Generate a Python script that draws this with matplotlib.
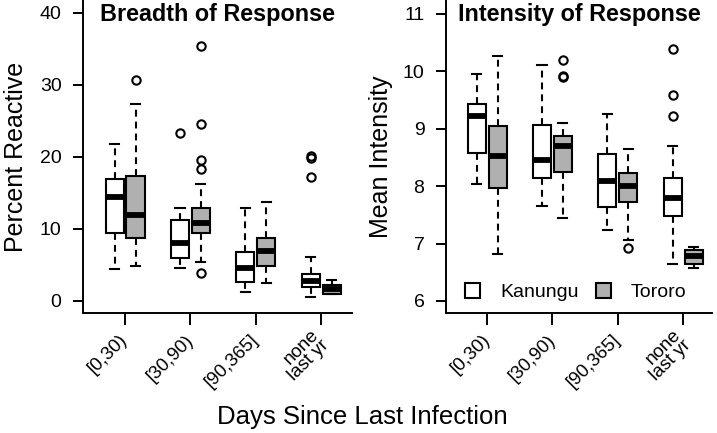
"""
boxploty: breadth a intensity odpovedi podle dnu od posledni infekce
"""
import matplotlib
matplotlib.use("Agg")
import matplotlib.pyplot as plt
from matplotlib.patches import Patch

plt.rcParams['font.family'] = ['Liberation Sans', 'DejaVu Sans']

groups = ["[0,30)", "[30,90)", "[90,365]", "none\nlast yr"]
sites = ["Kanungu", "Tororo"]

# Breadth of Response (Percent Reactive)
br_kan_whislo = [4.4, 4.6, 1.3, 0.6]
br_kan_q1 = [9.5, 6.0, 2.6, 1.9]
br_kan_med = [14.4, 8.1, 4.6, 2.8]
br_kan_q3 = [16.9, 11.2, 6.8, 3.8]
br_kan_whishi = [21.8, 12.9, 12.9, 6.1]
br_kan_fliers = [[], [23.3], [], [20.1, 19.8, 17.2]]

br_tor_whislo = [4.9, 5.4, 2.5, 0.95]
br_tor_q1 = [8.8, 9.4, 4.8, 1.0]
br_tor_med = [12.0, 10.8, 6.9, 1.65]
br_tor_q3 = [17.4, 12.9, 8.75, 2.25]
br_tor_whishi = [27.4, 16.3, 13.75, 2.85]
br_tor_fliers = [[30.7], [35.4, 24.6, 19.6, 18.3, 3.9], [], []]

# Intensity of Response (Mean Intensity)
in_kan_whislo = [8.04, 7.65, 7.23, 6.65]
in_kan_q1 = [8.58, 8.14, 7.64, 7.48]
in_kan_med = [9.22, 8.45, 8.08, 7.80]
in_kan_q3 = [9.43, 9.07, 8.56, 8.14]
in_kan_whishi = [9.96, 10.10, 9.26, 8.69]
in_kan_fliers = [[], [], [], [10.39, 9.59, 9.22]]

in_tor_whislo = [6.81, 7.44, 7.06, 6.57]
in_tor_q1 = [7.96, 8.24, 7.73, 6.64]
in_tor_med = [8.53, 8.70, 8.00, 6.78]
in_tor_q3 = [9.04, 8.88, 8.23, 6.88]
in_tor_whishi = [10.27, 9.10, 8.65, 6.94]
in_tor_fliers = [[], [10.19, 9.92, 9.90], [6.92], []]

GRAY = '#b0b0b0'
LW = 1.5


def make_stats(whislo, q1, med, q3, whishi, fliers):
    """
    stats dicts for bxp
    """
    return [dict(whislo=a, q1=b, med=c, q3=d, whishi=e, fliers=f)
            for a, b, c, d, e, f in zip(whislo, q1, med, q3, whishi, fliers)]


def draw_boxes(ax, stats, offset, color):
    """
    one site's boxes around the group ticks
    """
    pos = [i + 1 + offset for i in range(len(stats))]
    ax.bxp(stats, positions=pos, widths=0.276, capwidths=0.138,
           patch_artist=True, manage_ticks=False,
           boxprops=dict(facecolor=color, edgecolor='black', linewidth=LW),
           medianprops=dict(color='black', linewidth=4.2, solid_capstyle='butt'),
           whiskerprops=dict(color='black', linewidth=LW, linestyle=(0, (3.3, 2.4))),
           capprops=dict(color='black', linewidth=LW),
           flierprops=dict(marker='o', markerfacecolor='none',
                           markeredgecolor='black', markersize=6,
                           markeredgewidth=1.5))


def style_axes(ax, title, ylabel, yticks, ylim, xlim, label_x):
    """
    R-like axes
    """
    ax.set_xlim(xlim)
    ax.set_ylim(ylim)
    for s in ['top', 'right']:
        ax.spines[s].set_visible(False)
    for s in ['left', 'bottom']:
        ax.spines[s].set_linewidth(1.4)
    ax.set_yticks(yticks)
    ax.set_xticks([1, 2, 3, 4])
    ax.set_xticklabels(groups, rotation=45, ha='right', va='center',
                       rotation_mode='anchor', fontsize=13.5, linespacing=0.85)
    ax.tick_params(axis='y', length=7.5, width=1.4, pad=8, labelsize=14)
    ax.tick_params(axis='x', length=8.5, width=1.4, pad=9)
    ax.set_ylabel(ylabel, fontsize=18)
    ax.yaxis.set_label_coords(label_x, 0.5)
    ax.text(0.5, 0.934, title, transform=ax.transAxes, ha='center',
            va='baseline', fontsize=16.8, fontweight='bold')


fig = plt.figure(figsize=(7.17, 4.33), dpi=100)
ax1 = fig.add_axes([83 / 717, 120 / 433, 269 / 717, 313 / 433])
ax2 = fig.add_axes([446 / 717, 120 / 433, 266 / 717, 313 / 433])

draw_boxes(ax1, make_stats(br_kan_whislo, br_kan_q1, br_kan_med, br_kan_q3,
                           br_kan_whishi, br_kan_fliers), -0.16, 'white')
draw_boxes(ax1, make_stats(br_tor_whislo, br_tor_q1, br_tor_med, br_tor_q3,
                           br_tor_whishi, br_tor_fliers), 0.16, GRAY)
draw_boxes(ax2, make_stats(in_kan_whislo, in_kan_q1, in_kan_med, in_kan_q3,
                           in_kan_whishi, in_kan_fliers), -0.16, 'white')
draw_boxes(ax2, make_stats(in_tor_whislo, in_tor_q1, in_tor_med, in_tor_q3,
                           in_tor_whishi, in_tor_fliers), 0.16, GRAY)

style_axes(ax1, "Breadth of Response", "Percent Reactive",
           [0, 10, 20, 30, 40], (-1.67, 41.8), (0.357, 4.47), -0.206)
style_axes(ax2, "Intensity of Response", "Mean Intensity",
           [6, 7, 8, 9, 10, 11], (5.79, 11.24), (0.372, 4.44), -0.198)

handles = [Patch(facecolor='white', edgecolor='black', linewidth=LW),
           Patch(facecolor=GRAY, edgecolor='black', linewidth=LW)]
ax2.legend(handles, sites, loc='lower left', bbox_to_anchor=(0.071, 0.038),
           ncol=2, frameon=False, fontsize=14, handlelength=0.8,
           handleheight=0.8, handletextpad=1.0, columnspacing=0.9,
           borderpad=0, borderaxespad=0)

fig.text(362 / 717, 9 / 433, "Days Since Last Infection", ha='center',
         va='baseline', fontsize=18.5)

fig.savefig("out.png", dpi=100)
